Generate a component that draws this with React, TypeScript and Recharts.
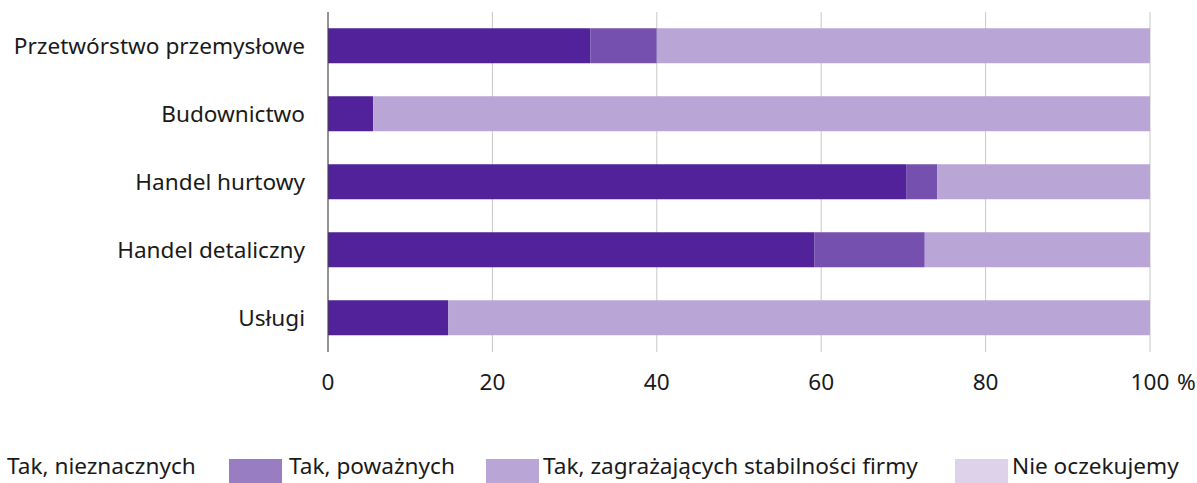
import { BarChart, Bar, XAxis, YAxis, CartesianGrid } from "recharts";

const sectors = ["Przetwórstwo przemysłowe", "Budownictwo", "Handel hurtowy", "Handel detaliczny", "Usługi"];
const slight = [31.9, 5.5, 70.4, 59.2, 14.6];
const serious = [8.1, 0, 3.7, 13.4, 0];
const threatening = [60.0, 94.5, 25.9, 27.4, 85.4];
const none = [0, 0, 0, 0, 0];
const xTicks = [0, 20, 40, 60, 80, 100];

const seriesNames = ["Tak, nieznacznych", "Tak, poważnych", "Tak, zagrażających stabilności firmy", "Nie oczekujemy"];
const barColors = ["#51229a", "#7650ae", "#b9a6d6", "#ddd2ea"];
const legendColors = ["#51229a", "#997dc2", "#b9a6d6", "#ddd2ea"];

const FONT = "'Noto Sans', sans-serif";
const FS = 22.6;

const data = sectors.map((name, i) => ({
  name,
  s0: slight[i],
  s1: serious[i],
  s2: threatening[i],
  s3: none[i],
}));

function YTick({ x, y, payload }: any) {
  return (
    <text x={x} y={y} dy={8} textAnchor="end" fontFamily={FONT} fontSize={FS} fill="#1a1a1a">
      {payload.value}
    </text>
  );
}

function XTick({ x, y, payload }: any) {
  const last = payload.value === 100;
  return (
    <g>
      <text x={x} y={y + 30} textAnchor="middle" fontFamily={FONT} fontSize={FS} fill="#1a1a1a">
        {payload.value}
      </text>
      {last && (
        <text x={x + 27} y={y + 30} textAnchor="start" fontFamily={FONT} fontSize={FS} fill="#1a1a1a">
          %
        </text>
      )}
    </g>
  );
}

// legend positions (first swatch sits off the left edge)
const legendItems = [
  { swatch: -60, text: 7 },
  { swatch: 229, text: 289 },
  { swatch: 486, text: 543 },
  { swatch: 955, text: 1012 },
];

export default function App() {
  return (
    <div style={{ position: "absolute", left: 0, top: 0, width: 1197, height: 483, overflow: "hidden", background: "#fff" }}>
      <BarChart
        width={1197}
        height={483}
        data={data}
        layout="vertical"
        margin={{ top: 12, right: 47, left: 0, bottom: 91 }}
        barCategoryGap="24%"
      >
        <CartesianGrid horizontal={false} stroke="#c8c8c8" />
        <XAxis
          type="number"
          domain={[0, 100]}
          ticks={xTicks}
          axisLine={false}
          tickLine={false}
          tick={<XTick />}
          height={40}
        />
        <YAxis
          type="category"
          dataKey="name"
          width={328}
          axisLine={{ stroke: "#444" }}
          tickLine={false}
          tickMargin={17}
          tick={<YTick />}
        />
        {["s0", "s1", "s2", "s3"].map((k, i) => (
          <Bar key={k} dataKey={k} stackId="a" fill={barColors[i]} isAnimationActive={false} />
        ))}
      </BarChart>
      {legendItems.map((it, i) => (
        <div key={i}>
          <div style={{ position: "absolute", left: it.swatch, top: 459, width: 53, height: 24, background: legendColors[i] }} />
          <div
            style={{
              position: "absolute",
              left: it.text,
              top: 454,
              fontFamily: FONT,
              fontSize: FS,
              color: "#1a1a1a",
              whiteSpace: "nowrap",
              lineHeight: "24px",
            }}
          >
            {seriesNames[i]}
          </div>
        </div>
      ))}
    </div>
  );
}
